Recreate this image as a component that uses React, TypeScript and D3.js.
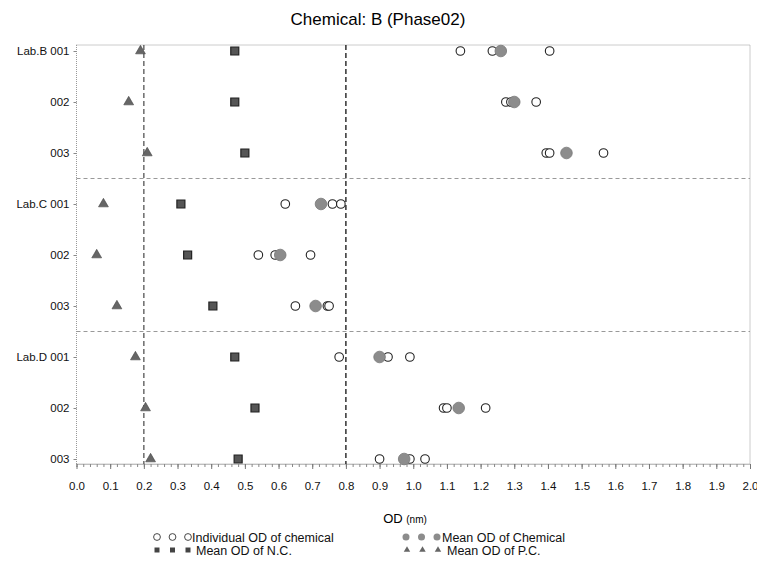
import React, { useEffect, useRef } from "react";
import * as d3 from "d3";

// rows of the chart, top to bottom
const rows = ["B001", "B002", "B003", "C001", "C002", "C003", "D001", "D002", "D003"];
const rowLabels = ["Lab.B 001", "002", "003", "Lab.C 001", "002", "003", "Lab.D 001", "002", "003"];

// positive control (P.C.) mean OD
const pcMean = [0.19, 0.155, 0.21, 0.08, 0.06, 0.12, 0.175, 0.205, 0.22];
// negative control (N.C.) mean OD
const ncMean = [0.47, 0.47, 0.5, 0.31, 0.33, 0.405, 0.47, 0.53, 0.48];
// individual OD of chemical (3 wells per row)
const individual = [
  [1.14, 1.235, 1.405],
  [1.275, 1.29, 1.365],
  [1.395, 1.405, 1.565],
  [0.62, 0.76, 0.785],
  [0.54, 0.59, 0.695],
  [0.65, 0.745, 0.75],
  [0.78, 0.925, 0.99],
  [1.09, 1.1, 1.215],
  [0.9, 0.99, 1.035],
];
// mean OD of chemical
const chemMean = [1.26, 1.3, 1.455, 0.726, 0.605, 0.71, 0.9, 1.135, 0.973];

const xTicks = d3.range(0, 2.0001, 0.1);
const refLines = [0.2, 0.8];
const groupBreaks = [2.5, 5.5];

const App = () => {
  const ref = useRef<SVGSVGElement>(null);

  useEffect(() => {
    const width = 757;
    const height = 561;
    const margin = { top: 45, right: 7, bottom: 97, left: 76.5 };
    const svg = d3.select(ref.current);
    svg.selectAll("*").remove();
    svg.attr("width", width).attr("height", height);

    const font = "'Liberation Sans', Arial, sans-serif";
    const narrow = "'Liberation Sans Narrow', 'Arial Narrow', 'Liberation Sans', sans-serif";

    const x = d3.scaleLinear().domain([0, 2]).range([margin.left, width - margin.right]);
    const y = d3.scalePoint<string>().domain(rows).range([51, 459]);
    const yIdx = d3.scaleLinear().domain([0, rows.length - 1]).range([51, 459]);
    const plotBottom = height - margin.bottom;

    // title
    svg
      .append("text")
      .attr("x", 378)
      .attr("y", 25)
      .attr("text-anchor", "middle")
      .style("font-family", font)
      .style("font-size", "17px")
      .text("Chemical:  B  (Phase02)");

    // plot frame (dotted)
    svg
      .append("rect")
      .attr("x", margin.left)
      .attr("y", margin.top)
      .attr("width", width - margin.right - margin.left)
      .attr("height", plotBottom - margin.top)
      .attr("fill", "none")
      .attr("stroke", "#999")
      .attr("stroke-dasharray", "1,1");

    // group separators
    svg
      .selectAll(".sep")
      .data(groupBreaks)
      .enter()
      .append("line")
      .attr("x1", margin.left)
      .attr("x2", width - margin.right)
      .attr("y1", (d) => yIdx(d))
      .attr("y2", (d) => yIdx(d))
      .attr("stroke", "#999")
      .attr("stroke-dasharray", "4,3");

    // reference lines
    svg
      .selectAll(".refl")
      .data(refLines)
      .enter()
      .append("line")
      .attr("x1", (d) => x(d))
      .attr("x2", (d) => x(d))
      .attr("y1", margin.top)
      .attr("y2", plotBottom)
      .attr("stroke", (d, i) => (i === 0 ? "#555" : "#111"))
      .attr("stroke-width", 1.3)
      .attr("stroke-dasharray", "5,3");

    // x axis: minor ticks
    svg
      .append("g")
      .attr("transform", `translate(0,${plotBottom})`)
      .call(
        d3
          .axisBottom(x)
          .tickValues(d3.range(0, 2.0001, 0.02))
          .tickSize(3)
          .tickFormat(() => "")
      )
      .call((g) => g.select(".domain").attr("stroke", "#999").attr("stroke-dasharray", "1,1"))
      .call((g) => g.selectAll(".tick line").attr("stroke", "#888"));
    // x axis: major ticks
    svg
      .append("g")
      .attr("transform", `translate(0,${plotBottom})`)
      .call(
        d3
          .axisBottom(x)
          .tickValues(xTicks)
          .tickSize(5)
          .tickPadding(13)
          .tickFormat(d3.format(".1f"))
      )
      .call((g) => g.select(".domain").remove())
      .call((g) => g.selectAll(".tick line").attr("stroke", "#777"))
      .selectAll("text")
      .style("font-family", narrow)
      .style("font-size", "11.5px")
      .attr("fill", "#111");

    // y axis
    svg
      .append("g")
      .attr("transform", `translate(${margin.left},0)`)
      .call(
        d3
          .axisLeft(y)
          .tickSize(3)
          .tickPadding(4)
          .tickFormat((d, i) => rowLabels[i])
      )
      .call((g) => g.select(".domain").remove())
      .call((g) => g.selectAll(".tick line").attr("stroke", "#888"))
      .selectAll("text")
      .style("font-family", narrow)
      .style("font-size", "11.5px")
      .attr("fill", "#111");

    // x axis title
    const xt = svg
      .append("text")
      .attr("x", 405)
      .attr("y", 523)
      .attr("text-anchor", "middle")
      .style("font-family", narrow)
      .style("font-size", "13px");
    xt.append("tspan").text("OD ");
    xt.append("tspan").style("font-size", "10px").text("(nm)");

    const tri = d3.symbol().type(d3.symbolTriangle).size(42);
    const sq = d3.symbol().type(d3.symbolSquare).size(64);

    // P.C.
    svg
      .selectAll(".pc")
      .data(pcMean)
      .enter()
      .append("path")
      .attr("d", tri)
      .attr("transform", (d, i) => `translate(${x(d)},${y(rows[i])})`)
      .attr("fill", "#666")
      .attr("stroke", "#444")
      .attr("stroke-width", 0.6);

    // N.C.
    svg
      .selectAll(".nc")
      .data(ncMean)
      .enter()
      .append("path")
      .attr("d", sq)
      .attr("transform", (d, i) => `translate(${x(d)},${y(rows[i])})`)
      .attr("fill", "#555")
      .attr("stroke", "#222")
      .attr("stroke-width", 1.2);

    // individual OD
    const flat = individual.flatMap((vals, i) => vals.map((v) => ({ row: rows[i], v })));
    svg
      .selectAll(".ind")
      .data(flat)
      .enter()
      .append("circle")
      .attr("cx", (d) => x(d.v))
      .attr("cy", (d) => y(d.row))
      .attr("r", 4.3)
      .attr("fill", "white")
      .attr("stroke", "#222")
      .attr("stroke-width", 1.1);

    // mean chemical
    svg
      .selectAll(".cm")
      .data(chemMean)
      .enter()
      .append("circle")
      .attr("cx", (d) => x(d))
      .attr("cy", (d, i) => y(rows[i]))
      .attr("r", 5.8)
      .attr("fill", "#8c8c8c")
      .attr("stroke", "#777")
      .attr("stroke-width", 0.8);

    // legend
    const legend = [
      { label: "Individual OD of chemical", kind: "ind", lx: 157, ly: 537 },
      { label: "Mean OD of Chemical", kind: "cm", lx: 407, ly: 537 },
      { label: "Mean OD of N.C.", kind: "nc", lx: 157, ly: 550 },
      { label: "Mean OD of P.C.", kind: "pc", lx: 408, ly: 550 },
    ];
    const lg = svg.append("g");
    legend.forEach((item) => {
      const g = lg.append("g").attr("transform", `translate(${item.lx},${item.ly})`);
      [0, 1, 2].forEach((k) => {
        const cx = k * 15.5;
        if (item.kind === "ind") {
          g.append("circle").attr("cx", cx).attr("cy", 0).attr("r", 3.4).attr("fill", "white").attr("stroke", "#333").attr("stroke-width", 0.9);
        } else if (item.kind === "cm") {
          g.append("circle").attr("cx", cx - 1).attr("cy", 0).attr("r", 3.5).attr("fill", "#8c8c8c");
        } else if (item.kind === "nc") {
          g.append("path").attr("d", d3.symbol().type(d3.symbolSquare).size(25)()).attr("transform", `translate(${cx},0)`).attr("fill", "#444");
        } else {
          g.append("path").attr("d", d3.symbol().type(d3.symbolTriangle).size(18)()).attr("transform", `translate(${cx - 1},0)`).attr("fill", "#666");
        }
      });
      g.append("text")
        .attr("x", item.kind === "nc" || item.kind === "pc" ? 39 : 35)
        .attr("y", 4.5)
        .style("font-family", narrow)
        .style("font-size", "12.5px")
        .attr("fill", "#111")
        .text(item.label);
    });
  }, []);

  return (
    <div>
      <svg ref={ref} style={{ position: "absolute", left: 0, top: 0 }}></svg>
    </div>
  );
};

export default App;
